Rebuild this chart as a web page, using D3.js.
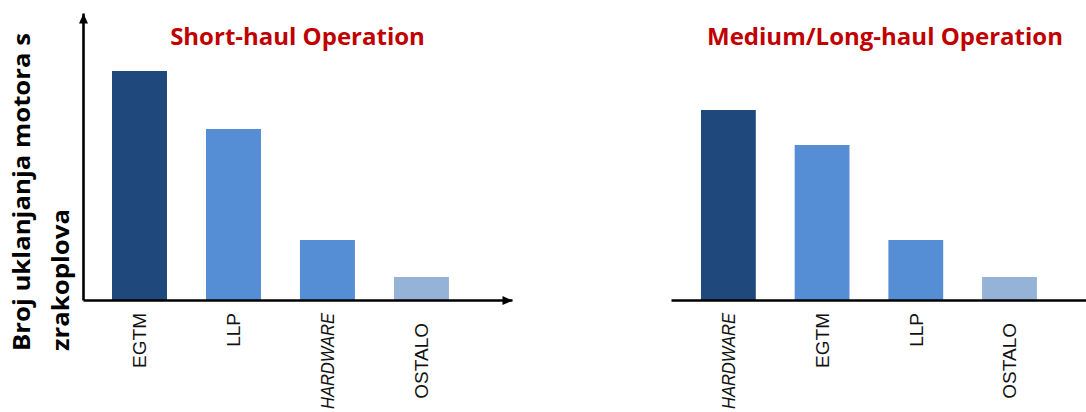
<!DOCTYPE html>
<html><head><meta charset="utf-8">
<script src="https://cdn.jsdelivr.net/npm/d3@7"></script>
<style>body{margin:0;background:#fff}</style>
</head><body>
<svg id="chart" width="1086" height="412"></svg>
<script>
// ---- data ----
const shortCategories = ["EGTM", "LLP", "HARDWARE", "OSTALO"];
const shortValues = [229, 171, 60, 23];
const longCategories = ["HARDWARE", "EGTM", "LLP", "OSTALO"];
const longValues = [190, 155, 60, 23];
const panelTitles = ["Short-haul Operation", "Medium/Long-haul Operation"];
const yLabelLines = ["Broj uklanjanja motora s", "zrakoplova"];
const yMax = 287;

// ---- styles ----
const barColors = ["#1F497D", "#558ED5", "#558ED5", "#95B3D7"];
const italicLabels = ["HARDWARE"];
const labelExtraOffset = {"OSTALO": 10};
const labelFitLength = {"HARDWARE": 96};

const svg = d3.select("#chart");
const baseY = 300;
const y = d3.scaleLinear().domain([0, yMax]).range([baseY, 13]);

const defs = svg.append("defs");
defs.append("marker").attr("id", "arrow")
  .attr("viewBox", "0 -5 10 10").attr("refX", 10).attr("refY", 0)
  .attr("markerUnits", "userSpaceOnUse").attr("markerWidth", 11).attr("markerHeight", 10)
  .attr("orient", "auto")
  .append("path").attr("d", "M0,-4.5L10,0L0,4.5Z").attr("fill", "#000");

const panels = [
  {cats: shortCategories, vals: shortValues, range: [83, 512], po: 0.49, align: 0.315, arrow: true, yAxis: true, title: panelTitles[0], titleX: 297.5},
  {cats: longCategories, vals: longValues, range: [671, 1086], po: 0.422, align: 0.379, arrow: false, yAxis: false, title: panelTitles[1], titleX: 885}
];

panels.forEach(p => {
  const x = d3.scaleBand().domain(p.cats).range(p.range)
    .paddingInner(0.415).paddingOuter(p.po).align(p.align);
  const g = svg.append("g");

  g.selectAll("rect.bar").data(p.cats).join("rect")
    .attr("class", "bar")
    .attr("x", d => x(d))
    .attr("width", x.bandwidth())
    .attr("y", (d, i) => y(p.vals[i]))
    .attr("height", (d, i) => baseY - y(p.vals[i]))
    .attr("fill", (d, i) => barColors[i]);

  const xAxis = g.append("g").attr("transform", `translate(0,${baseY})`)
    .call(d3.axisBottom(x).tickSize(0).tickSizeOuter(0));
  xAxis.select(".domain").attr("stroke", "#000").attr("stroke-width", 2.6)
    .attr("marker-end", p.arrow ? "url(#arrow)" : null);
  xAxis.selectAll(".tick text")
    .attr("transform", "rotate(-90)")
    .attr("text-anchor", "end")
    .attr("x", d => -13 - (labelExtraOffset[d] || 0))
    .attr("y", 0)
    .attr("dy", "0.36em")
    .attr("font-family", "'Liberation Sans', Arial, sans-serif")
    .attr("font-size", 19)
    .attr("font-style", d => italicLabels.includes(d) ? "italic" : "normal")
    .attr("fill", "#111")
    .each(function(d) {
      if (labelFitLength[d]) {
        d3.select(this).attr("textLength", labelFitLength[d]).attr("lengthAdjust", "spacingAndGlyphs");
      }
    });

  if (p.yAxis) {
    const yAxis = g.append("g").attr("transform", `translate(${p.range[0]},0)`)
      .call(d3.axisLeft(y).tickValues([]).tickSizeOuter(0));
    yAxis.select(".domain").attr("stroke", "#000").attr("stroke-width", 2.6)
      .attr("marker-end", "url(#arrow)");
  }

  svg.append("text")
    .attr("x", p.titleX).attr("y", 45)
    .attr("text-anchor", "middle")
    .attr("font-family", "'Open Sans', sans-serif")
    .attr("font-weight", "bold")
    .attr("font-size", 24)
    .attr("fill", "#C00000")
    .text(p.title);
});

// y-axis label (two rotated lines)
const yLab = svg.append("g");
const lineX = [30, 69];
const lineLen = [318, 142];
yLabelLines.forEach((t, i) => {
  yLab.append("text")
    .attr("transform", `translate(${lineX[i]},351) rotate(-90)`)
    .attr("text-anchor", "start")
    .attr("font-family", "'Open Sans', sans-serif")
    .attr("font-weight", "bold")
    .attr("font-size", 23)
    .attr("textLength", lineLen[i])
    .attr("lengthAdjust", "spacingAndGlyphs")
    .attr("fill", "#000")
    .text(t);
});
</script>
</body></html>
